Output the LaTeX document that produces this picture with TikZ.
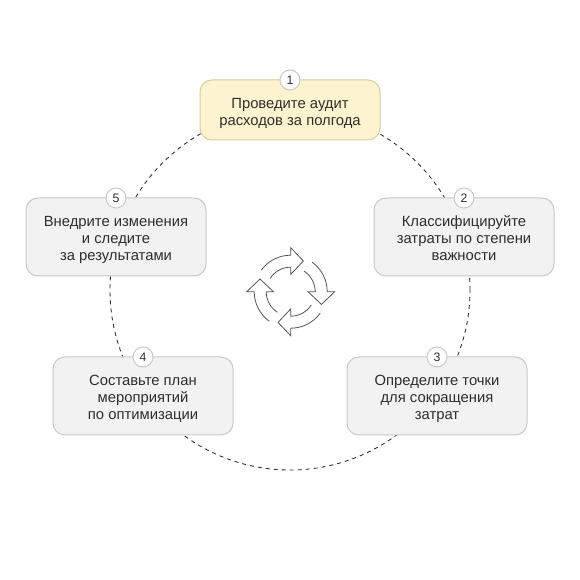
\documentclass[tikz,border=0pt]{standalone}
\usepackage{fontspec}
\setmainfont{Liberation Sans}
\definecolor{ink}{HTML}{2E2E2E}
\definecolor{icon}{HTML}{555555}
\definecolor{greyfill}{HTML}{F2F2F2}
\definecolor{greyline}{HTML}{C9C9C9}
\definecolor{yellowfill}{HTML}{FDF3CF}
\definecolor{yellowline}{HTML}{D8CDA6}
\newcommand{\steptext}[1]{\raisebox{-2.5pt}[\height][\depth]{\begin{tabular}{@{}c@{}}#1\end{tabular}}}
\tikzset{
  stepbox/.style={rectangle,rounded corners=9pt,draw=greyline,fill=greyfill,line width=.75pt,
    minimum width=135pt,minimum height=58.5pt,inner sep=0pt,outer sep=0pt,text=ink,
    font=\fontsize{11.1pt}{12.9pt}\selectfont},
  firstbox/.style={stepbox,draw=yellowline,fill=yellowfill,minimum height=45pt},
  badge/.style={circle,draw=greyline,fill=white,line width=.75pt,minimum size=15pt,inner sep=0pt,
    text=ink,font=\fontsize{9.2pt}{10pt}\selectfont},
  ring/.style={draw=ink,line width=.65pt,dash pattern=on 3pt off 3pt},
  cyc/.style={draw=icon,line width=.6pt,line join=miter}
}
\begin{document}
\begin{tikzpicture}[x=.75pt,y=.75pt]
\useasboundingbox[fill=white] (0,0) rectangle (580,580);
\coordinate (c) at (290,290);
\path[ring] (c) circle[radius=180];
\node[firstbox] (s1) at (290,470) {\steptext{Проведите аудит\\расходов за полгода}};
\node[stepbox] (s2) at (464,343) {\steptext{Классифицируйте\\затраты по степени\\важности}};
\node[stepbox] (s3) at (437,184) {\steptext{Определите точки\\для сокращения\\затрат}};
\node[stepbox] (s4) at (143,184) {\steptext{Составьте план\\мероприятий\\по оптимизации}};
\node[stepbox] (s5) at (116,343) {\steptext{Внедрите изменения\\и следите\\за результатами}};
\node[badge] (b1) at (s1.north) {1};
\node[badge] (b2) at (s2.north) {2};
\node[badge] (b3) at (s3.north) {3};
\node[badge] (b4) at (s4.north) {4};
\node[badge] (b5) at (s5.north) {5};
\foreach \a in {0,-90,-180,-270}{
  \begin{scope}[shift={(290.7,288.3)},rotate=\a]
    \path[cyc] (144:36.5) arc[start angle=144,end angle=90,radius=36.5]
      -- (0,44) -- (12.7,30.7) -- (0,17.3) -- (0,24.5)
      arc[start angle=90,end angle=147,radius=24.5];
  \end{scope}
}
\end{tikzpicture}
\end{document}
